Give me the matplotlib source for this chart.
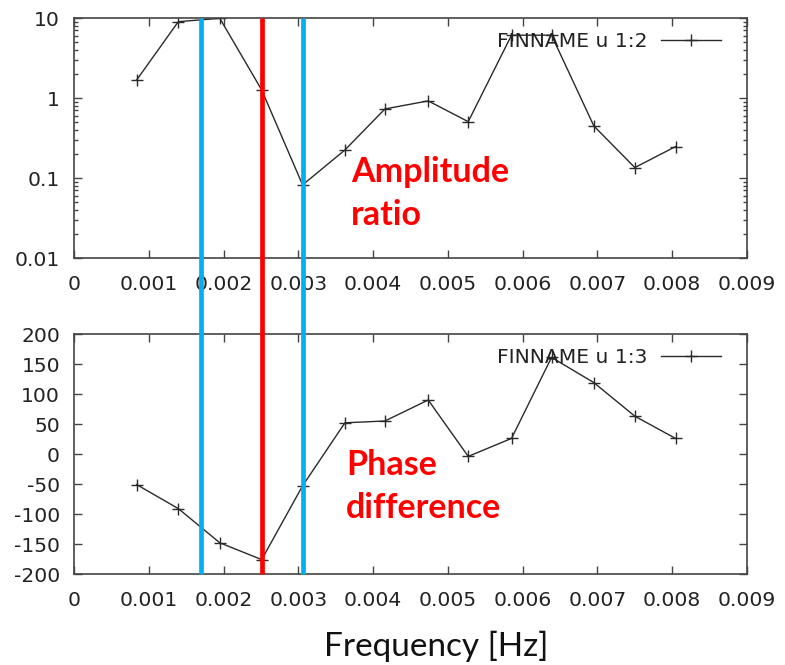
import matplotlib
matplotlib.use("Agg")
import matplotlib.pyplot as plt
from matplotlib.lines import Line2D
from matplotlib.transforms import blended_transform_factory
from matplotlib.ticker import LogLocator, FixedLocator, NullFormatter, FuncFormatter

plt.rcParams["axes.unicode_minus"] = False

# Frequencies of the analysed components [Hz]
freq = [0.000838, 0.001395, 0.00195, 0.00251, 0.003057, 0.003623, 0.004158,
        0.004737, 0.005272, 0.005851, 0.006386, 0.006952, 0.0075, 0.008044]
# Amplitude ratio (column 2)
amp_ratio = [1.68, 9.0, 9.9, 1.26, 0.082, 0.224, 0.73,
             0.92, 0.506, 6.1, 6.1, 0.447, 0.135, 0.247]
# Phase difference (column 3)
phase_diff = [-51, -91, -148, -176, -53, 52, 55,
              90, -4, 26, 161, 119, 63, 26]

# Marked frequencies
blue_freqs = [0.0017, 0.003057]
red_freqs = [0.00251]

x_ticks = [0, 0.001, 0.002, 0.003, 0.004, 0.005, 0.006, 0.007, 0.008, 0.009]
x_ticklabels = ["0", "0.001", "0.002", "0.003", "0.004", "0.005", "0.006",
                "0.007", "0.008", "0.009"]
amp_ticks = [0.01, 0.1, 1, 10]
amp_ticklabels = ["0.01", "0.1", "1", "10"]
phase_ticks = [-200, -150, -100, -50, 0, 50, 100, 150, 200]

W, H = 785, 665
fig = plt.figure(figsize=(W / 100, H / 100), dpi=100)
fig.patch.set_facecolor("white")

left, right = 74, 747
ax1 = fig.add_axes([left / W, 1 - 258 / H, (right - left) / W, 240 / H])
ax2 = fig.add_axes([left / W, 1 - 574 / H, (right - left) / W, 240 / H])

txt_col = "#222222"
frame_col = "#444444"
line_col = "#2a2a2a"
tick_fs = 14.6


def style(ax):
    for sp in ax.spines.values():
        sp.set_color(frame_col)
        sp.set_linewidth(1.2)
    ax.set_xlim(0, 0.009)
    ax.xaxis.set_major_locator(FixedLocator(x_ticks))
    ax.set_xticklabels(x_ticklabels)
    ax.tick_params(axis="both", which="major", direction="in", length=6,
                   width=1.0, color=frame_col, top=True, right=True,
                   labelsize=tick_fs, labelcolor=txt_col)
    ax.tick_params(axis="x", which="major", pad=12)
    ax.tick_params(axis="y", which="major", pad=10)


# Amplitude ratio panel
ax1.plot(freq, amp_ratio, color=line_col, lw=1.0, marker="+", ms=8, mew=1.0,
         label="FINNAME u 1:2")
ax1.set_yscale("log")
ax1.set_ylim(0.01, 10)
style(ax1)
ax1.yaxis.set_major_locator(FixedLocator(amp_ticks))
ax1.set_yticklabels(amp_ticklabels)
ax1.yaxis.set_minor_locator(LogLocator(base=10, subs=range(2, 10)))
ax1.yaxis.set_minor_formatter(NullFormatter())
ax1.tick_params(axis="y", which="minor", direction="in", length=3, width=1.0,
                color=frame_col, right=True)

# Phase difference panel
ax2.plot(freq, phase_diff, color=line_col, lw=1.0, marker="+", ms=8, mew=1.0,
         label="FINNAME u 1:3")
ax2.set_ylim(-200, 200)
style(ax2)
ax2.yaxis.set_major_locator(FixedLocator(phase_ticks))
ax2.yaxis.set_major_formatter(FuncFormatter(lambda v, p: f"{int(v)}"))

for ax in (ax1, ax2):
    ax.legend(loc="upper right", bbox_to_anchor=(0.962, 0.94), frameon=False,
              fontsize=tick_fs, markerfirst=False, numpoints=1,
              handlelength=3.0, handletextpad=0.65, borderpad=0,
              borderaxespad=0, labelcolor=txt_col)

# Vertical marker lines spanning both panels
trans = blended_transform_factory(ax1.transData, fig.transFigure)
y_top, y_bot = 1 - 18 / H, 1 - 574 / H
for f in blue_freqs:
    fig.add_artist(Line2D([f, f], [y_bot, y_top], transform=trans,
                          color="#00B0F0", lw=3.4, solid_capstyle="butt"))
for f in red_freqs:
    fig.add_artist(Line2D([f, f], [y_bot, y_top], transform=trans,
                          color="#FF0000", lw=3.4, solid_capstyle="butt"))

# Annotations
fig.text(351 / W, 1 - 156 / H, "Amplitude\nratio", color="#FF0000",
         fontsize=24.5, fontweight="bold", family="Lato", va="top", ha="left",
         linespacing=1.42)
fig.text(346 / W, 1 - 449 / H, "Phase\ndifference", color="#FF0000",
         fontsize=24.5, fontweight="bold", family="Lato", va="top", ha="left",
         linespacing=1.42)
fig.text(436 / W, 1 - 646 / H, "Frequency [Hz]", color="#111111",
         fontsize=24, family="Lato", va="center", ha="center")

fig.savefig("out.png", dpi=100, facecolor="white")
